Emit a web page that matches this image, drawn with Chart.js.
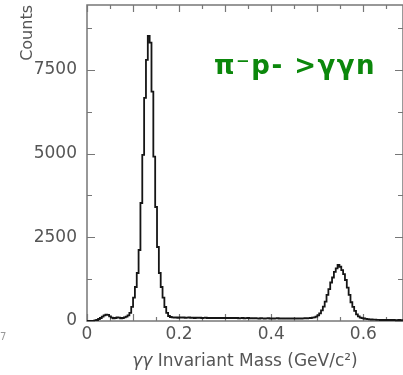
<!DOCTYPE html>
<html>
<head>
<meta charset="utf-8">
<script src="https://cdn.jsdelivr.net/npm/chart.js@4.4.1/dist/chart.umd.min.js"></script>
<style>
  html, body { margin: 0; padding: 0; background: #fff; }
  #wrap { width: 403px; height: 375px; position: relative; }
</style>
</head>
<body>
<div id="wrap"><canvas id="hist" width="403" height="375"></canvas></div>
<script>
// histogram bins: lower edge = binStart + i * binWidth (GeV/c^2)
const binStart = 0;
const binWidth = 0.004;
// counts per bin
const counts = [
  0, 0, 0, 5, 15, 30, 60, 90, 130, 170,
  190, 180, 140, 100, 80, 90, 110, 100, 80, 90,
  110, 130, 170, 240, 420, 700, 1016, 1434, 2121, 3525,
  4960, 6663, 7798, 8515, 8315, 6850, 4909, 3406, 2211, 1434,
  1016, 700, 418, 240, 150, 120, 110, 100, 110, 95,
  105, 100, 110, 95, 100, 105, 95, 100, 90, 100,
  95, 100, 90, 95, 100, 90, 95, 85, 95, 90,
  95, 85, 90, 95, 85, 90, 85, 95, 85, 90,
  85, 90, 80, 85, 90, 80, 85, 90, 80, 85,
  80, 85, 80, 75, 85, 80, 75, 80, 85, 75,
  80, 75, 80, 85, 75, 80, 75, 70, 80, 75,
  70, 75, 80, 70, 75, 80, 75, 80, 85, 80,
  85, 90, 100, 110, 130, 170, 230, 320, 430, 580,
  780, 950, 1150, 1300, 1470, 1575, 1673, 1620, 1520, 1400,
  1225, 1000, 780, 560, 420, 300, 200, 140, 100, 85,
  75, 65, 55, 50, 45, 40, 40, 35, 35, 30,
  30, 35, 30, 25, 30, 25, 30, 25, 25, 30,
  25, 25
];
// tick positions (every one gets an inward tick mark) and the ones that get a label
const xTickValues = [0, 0.05, 0.1, 0.15, 0.2, 0.25, 0.3, 0.35, 0.4, 0.45, 0.5, 0.55, 0.6, 0.65];
const xTickLabels = ['0', '0.2', '0.4', '0.6'];
const yTickValues = [0, 1250, 2500, 3750, 5000, 6250, 7500, 8750];
const yTickLabels = ['0', '2500', '5000', '7500'];
// x title: the γγ part is set in italics
const xTitleItalic = 'γγ';
const xTitleRest = ' Invariant Mass (GeV/c²)';
const yTitle = 'Counts';
const reactionLabel = 'π⁻p- >γγn';

const AXIS = '#777';
const TEXT = '#555';
const FONT = '"DejaVu Sans", sans-serif';

// step line needs a closing point at the upper edge of the last bin
const points = counts.map((c, i) => ({ x: binStart + i * binWidth, y: c }));
points.push({ x: binStart + counts.length * binWidth, y: counts[counts.length - 1] });

function near(v, step) {
  return Math.abs(v / step - Math.round(v / step)) < 1e-6;
}

const framePlugin = {
  id: 'frame',
  beforeDatasetsDraw(chart) {
    const { ctx, chartArea: a, scales: { x, y } } = chart;
    ctx.save();
    ctx.strokeStyle = AXIS;
    ctx.lineWidth = 1.5;
    ctx.strokeRect(a.left, a.top, a.right - a.left, a.bottom - a.top);

    ctx.lineWidth = 1.2;
    ctx.beginPath();
    // inward ticks, x (bottom + top)
    x.ticks.forEach(t => {
      const px = Math.round(x.getPixelForValue(t.value)) + 0.5;
      const len = near(t.value, 0.1) ? 7 : 4;
      ctx.moveTo(px, a.bottom); ctx.lineTo(px, a.bottom - len);
      ctx.moveTo(px, a.top); ctx.lineTo(px, a.top + len);
    });
    // inward ticks, y (left + right)
    y.ticks.forEach(t => {
      const py = Math.round(y.getPixelForValue(t.value)) + 0.5;
      const len = near(t.value, 2500) ? 8 : 5;
      ctx.moveTo(a.left, py); ctx.lineTo(a.left + len, py);
      ctx.moveTo(a.right, py); ctx.lineTo(a.right - len, py);
    });
    ctx.stroke();
    ctx.restore();
  },
  afterDraw(chart) {
    const { ctx, chartArea: a } = chart;
    ctx.save();

    // x axis title, centred under the plot frame
    ctx.fillStyle = TEXT;
    ctx.textBaseline = 'alphabetic';
    ctx.font = 'italic 17px ' + FONT;
    const w1 = ctx.measureText(xTitleItalic).width;
    ctx.font = '17px ' + FONT;
    const w2 = ctx.measureText(xTitleRest).width;
    const x0 = (a.left + a.right) / 2 - (w1 + w2) / 2;
    ctx.font = 'italic 17px ' + FONT;
    ctx.fillText(xTitleItalic, x0, 366);
    ctx.font = '17px ' + FONT;
    ctx.fillText(xTitleRest, x0 + w1, 366);

    // reaction label
    ctx.fillStyle = '#0b870b';
    ctx.font = 'bold 26px ' + FONT;
    ctx.letterSpacing = '1.5px';
    ctx.fillText(reactionLabel, 214, 74);
    ctx.letterSpacing = '0px';

    // stray page number fragment at the bottom-left
    ctx.fillStyle = '#999';
    ctx.font = '10px ' + FONT;
    ctx.fillText('7', 0, 340);
    ctx.restore();
  }
};

new Chart(document.getElementById('hist'), {
  type: 'line',
  data: {
    datasets: [{
      data: points,
      stepped: true,
      borderColor: '#151515',
      borderWidth: 1.8,
      pointRadius: 0,
      fill: false
    }]
  },
  options: {
    responsive: false,
    animation: false,
    devicePixelRatio: 1,
    layout: { padding: { top: 5, right: 0, bottom: 0, left: 0 } },
    plugins: { legend: { display: false }, tooltip: { enabled: false } },
    scales: {
      x: {
        type: 'linear',
        min: 0,
        max: 0.686,
        afterBuildTicks: s => { s.ticks = xTickValues.map(v => ({ value: v })); },
        afterFit: s => {
          s.height = 54;
          s.paddingLeft = 0;
          s.paddingRight = 0;
        },
        grid: { display: false, drawTicks: false },
        border: { display: false },
        ticks: {
          autoSkip: false,
          maxRotation: 0,
          padding: 3,
          color: TEXT,
          font: { family: FONT, size: 17 },
          callback: v => {
            const s = Math.abs(v) < 1e-9 ? '0' : v.toFixed(1);
            return near(v, 0.2) && xTickLabels.includes(s) ? s : '';
          }
        },
        title: { display: false }
      },
      y: {
        min: 0,
        max: 9440,
        afterBuildTicks: s => { s.ticks = yTickValues.map(v => ({ value: v })); },
        afterFit: s => {
          s.width = 87;
          s.paddingTop = 0;
          s.paddingBottom = 0;
        },
        grid: { display: false, drawTicks: false },
        border: { display: false },
        ticks: {
          autoSkip: false,
          padding: 10,
          color: TEXT,
          font: { family: FONT, size: 17 },
          callback: v => {
            const s = String(Math.round(v));
            return near(v, 2500) && yTickLabels.includes(s) ? s : '';
          }
        },
        title: {
          display: true,
          text: yTitle,
          align: 'end',
          color: TEXT,
          font: { family: FONT, size: 16 },
          padding: { top: 18, bottom: 0 }
        }
      }
    }
  },
  plugins: [framePlugin]
});
</script>
</body>
</html>
